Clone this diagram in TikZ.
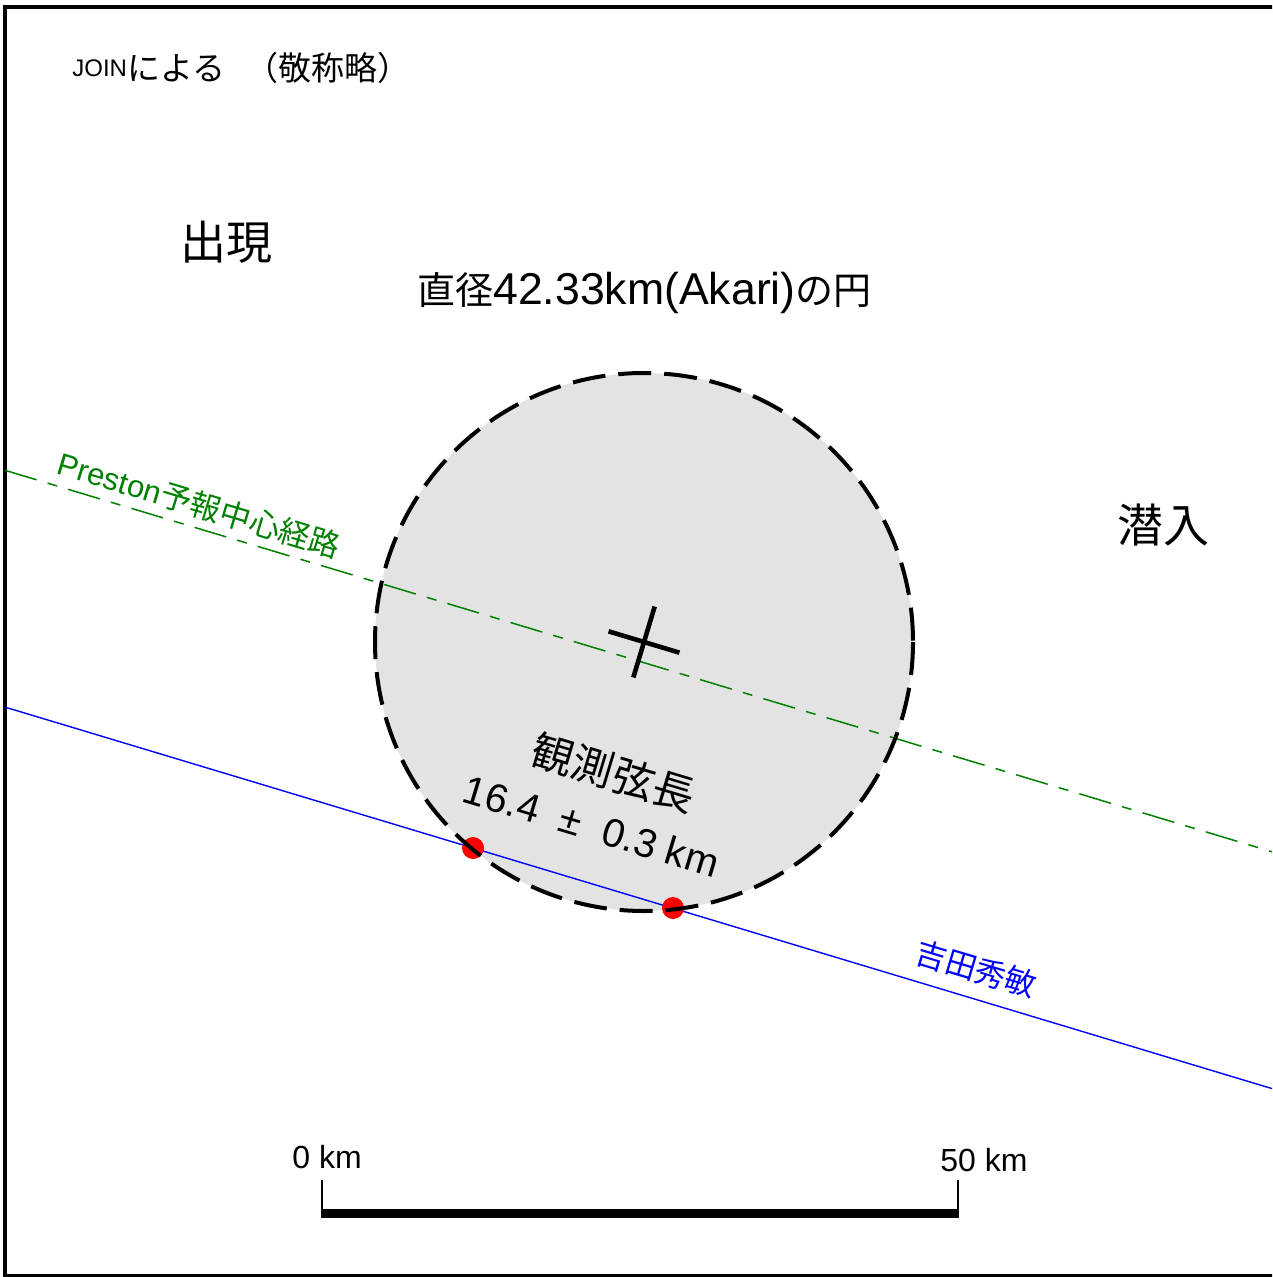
\documentclass[tikz,border=0pt]{standalone}
\usepackage{fontspec}
\setmainfont{Liberation Sans}
\newfontfamily\jpfont{Noto Sans CJK JP}
\usepackage{tikz}
\usetikzlibrary{calc}
\definecolor{diskgray}{RGB}{227,227,227}
\definecolor{pathgreen}{RGB}{0,128,0}
\newcommand{\jptxt}[2]{{\jpfont\fontsize{#1}{#1}\selectfont #2}}
\newcommand{\latxt}[2]{{\fontsize{#1}{#1}\selectfont #2}}
\tikzset{
  rim/.style={draw=black, line width=2pt, dash pattern=on 16.5pt off 6.5pt},
  centerline/.style={draw=pathgreen, line width=0.75pt,
    dash pattern=on 16.5pt off 5.75pt on 5pt off 5.75pt},
  chordline/.style={draw=blue, line width=0.7pt},
  hit/.style={circle, fill=red, inner sep=0pt, minimum size=11pt},
  plain/.style={anchor=base, inner sep=0pt},
  tilted/.style={plain, rotate=-16.76},
  tick/.style={line width=1pt},
}

\begin{document}
\begin{tikzpicture}[x=0.5pt,y=-0.5pt]
\useasboundingbox (0,0) rectangle (1272,1277);
\clip (0,0) rectangle (1272,1277);
\draw[line width=1.6pt] (5,7) rectangle (1300,1276);

% disk of the asteroid
\coordinate (O) at (644,642);
\fill[diskgray] (O) circle (269);

% predicted centre path and observed chord
\coordinate (pst-w) at (5,470.3);
\coordinate (pst-e) at (1280,854.2);
\draw[centerline] (pst-w) -- (pst-e);
\coordinate (obs-w) at (5,707.1);
\coordinate (obs-e) at (1280,1091);
\draw[chordline] (obs-w) -- (obs-e);
\node[hit] (d) at (473,848) {};
\node[hit] (r) at (673,908) {};

\draw[rim] (O) circle (269);
\draw[line width=2.3pt, shift={(O)}, rotate=-16.76] (-37,0) -- (37,0) (0,-37) -- (0,37);

% labels
\node[plain, anchor=base west] (join) at (72,77)
  {\latxt{12}{JOIN}\jptxt{16.5}{\raisebox{-2pt}{による\hspace{10pt}（敬称略）}}};
\node[plain] (appear) at (226,259.5) {\jptxt{23}{出現}};
\node[plain] (vanish) at (1163,542) {\jptxt{23}{潜入}};
\node[plain] (diam) at (644.5,305)
  {\jptxt{19}{直径}\latxt{22.3}{42.33km(Akari)}\jptxt{19}{の円}};
\node[tilted, text=pathgreen] (pst) at (196,516)
  {\latxt{15.5}{Preston}\jptxt{15.5}{予報中心経路}};
\node[tilted] (chord) at (609,788) {\jptxt{21}{観測弦長}};
\node[tilted] (len) at (587.5,840) {\latxt{20}{16.4\ \ ±\ \ 0.3 km}};
\node[tilted, text=blue] (obs) at (972.7,980) {\jptxt{15.5}{吉田秀敏}};

% scale bar
\coordinate (s0) at (322,1213.5);
\coordinate (s50) at (958,1213.5);
\draw[line width=4.5pt] (s0) -- (s50);
\draw[tick] ([yshift=-2.25pt]s0) -- ++(0,-38);
\draw[tick] ([yshift=-2.25pt]s50) -- ++(0,-38);
\node[plain, anchor=base west] (zero) at (292,1168) {\latxt{16}{0 km}};
\node[plain, anchor=base west] (fifty) at (940,1171) {\latxt{16}{50 km}};
\end{tikzpicture}
\end{document}
